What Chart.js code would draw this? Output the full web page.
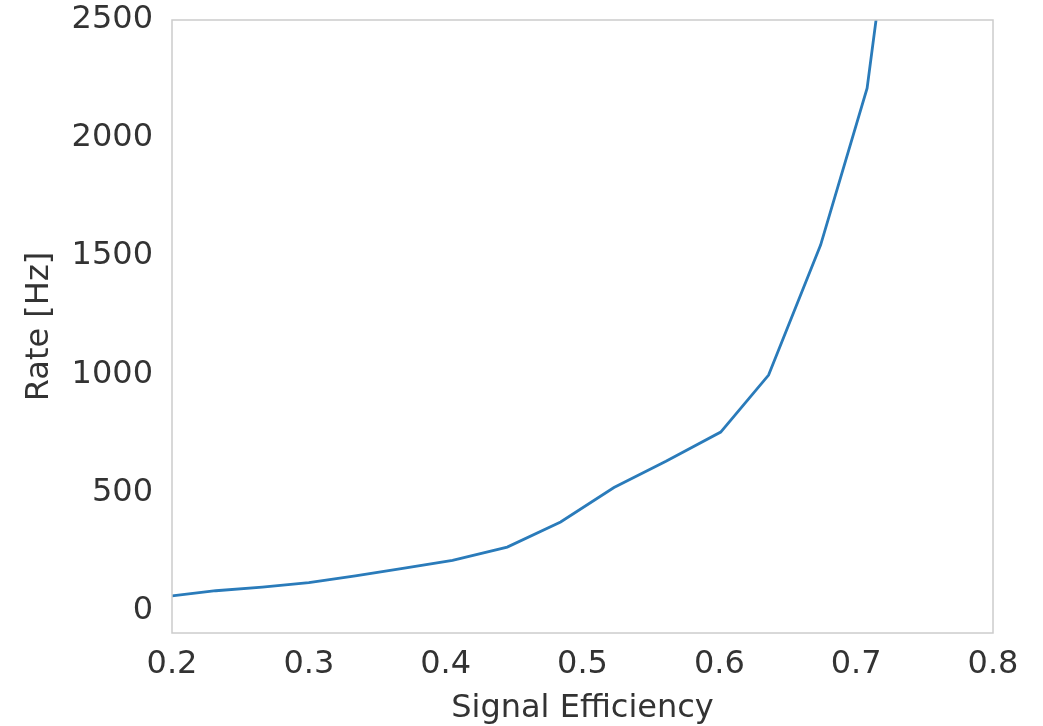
<!DOCTYPE html>
<html>
<head>
<meta charset="utf-8">
<script src="https://cdn.jsdelivr.net/npm/chart.js@4/dist/chart.umd.min.js"></script>
<style>
html,body{margin:0;padding:0;background:#fff;}
#wrap{width:1043px;height:726px;position:relative;}
</style>
</head>
<body>
<div id="wrap"><canvas id="c" width="1043" height="726"></canvas></div>
<script>
// Data
const signalEfficiency = [0.200, 0.232, 0.266, 0.300, 0.334, 0.371, 0.405, 0.445, 0.484, 0.523, 0.561, 0.601, 0.636, 0.674, 0.708, 0.743];
const rateHz          = [61,    83,    98,    117,   146,   180,   212,   268,   374,   520,   631,   755,   996,   1547,  2211,  3760];
const xTicks = [0.2, 0.3, 0.4, 0.5, 0.6, 0.7, 0.8];
const yTicks = [0, 500, 1000, 1500, 2000, 2500];

const TEXT = '#333333';
const FONT = 'DejaVu Sans';

const borderPlugin = {
  id: 'boxBorder',
  afterDraw(chart) {
    const a = chart.chartArea, ctx = chart.ctx;
    ctx.save();
    ctx.strokeStyle = '#cccccc';
    ctx.lineWidth = 1.5;
    ctx.strokeRect(a.left, a.top, a.right - a.left, a.bottom - a.top);
    ctx.restore();
  }
};

new Chart(document.getElementById('c'), {
  type: 'line',
  data: {
    datasets: [{
      data: signalEfficiency.map((x, i) => ({x: x, y: rateHz[i]})),
      borderColor: '#2a7bba',
      borderWidth: 2.8,
      pointRadius: 0,
      fill: false,
      tension: 0
    }]
  },
  options: {
    responsive: false,
    animation: false,
    layout: {padding: {top: 20, right: 50, left: 0, bottom: 0}},
    plugins: {legend: {display: false}, tooltip: {enabled: false}},
    scales: {
      x: {
        type: 'linear',
        min: 0.2, max: 0.8,
        afterBuildTicks(s) { s.ticks = xTicks.map(v => ({value: v})); },
        afterFit(s) { s.height = 93; },
        grid: {display: false, drawTicks: false},
        border: {display: false},
        ticks: {
          color: TEXT, font: {family: FONT, size: 32}, padding: 12,
          maxRotation: 0, autoSkip: false,
          callback: v => Number(v).toFixed(1)
        },
        title: {display: true, text: 'Signal Efficiency', color: TEXT,
                font: {family: FONT, size: 32}, padding: {top: 0, bottom: -2}}
      },
      y: {
        type: 'linear',
        min: -96, max: 2500,
        afterBuildTicks(s) { s.ticks = yTicks.map(v => ({value: v})); },
        afterFit(s) { s.width = 172; },
        grid: {display: false, drawTicks: false},
        border: {display: false},
        ticks: {
          color: TEXT, font: {family: FONT, size: 32, lineHeight: 0.02}, padding: 19,
          autoSkip: false,
          callback: v => String(v)
        },
        title: {display: true, text: 'Rate [Hz]', color: TEXT,
                font: {family: FONT, size: 32}, padding: {top: 20, bottom: 0}}
      }
    }
  },
  plugins: [borderPlugin]
});
</script>
</body>
</html>
